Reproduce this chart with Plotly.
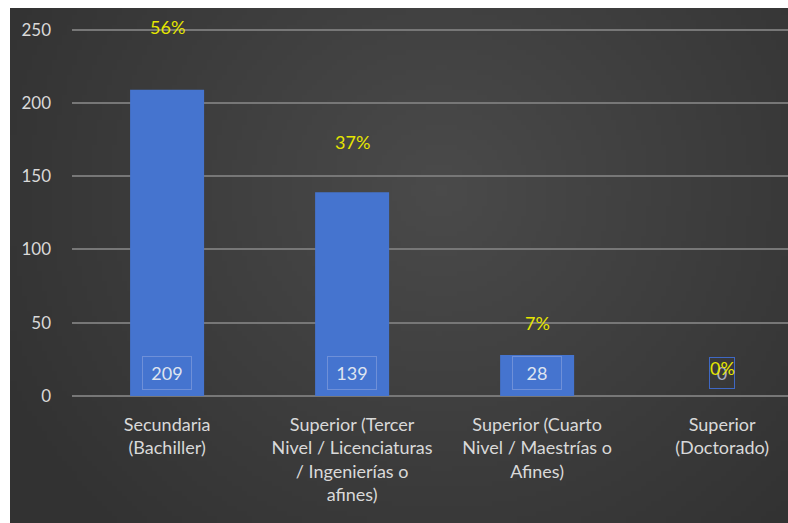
import base64
import struct
import zlib

import plotly.graph_objects as go

# Education level counts
categories = [
    "Secundaria<br>(Bachiller)",
    "Superior (Tercer<br>Nivel / Licenciaturas<br>/ Ingenierías o<br>afines)",
    "Superior (Cuarto<br>Nivel / Maestrías o<br>Afines)",
    "Superior<br>(Doctorado)",
]
counts = [209, 139, 28, 0]
share_labels = ["56%", "37%", "7%", "0%"]
y_ticks = [0, 50, 100, 150, 200, 250]

# Heights (in axis units) where the percentage labels sit
share_label_y = [252, 173, 50, 19]

W, H = 788, 523
ML, MR, MT, MB = 72, 0, 15, 127
FONT = "Lato"


def radial_png(w, h, inner, outer, cx, cy, rx, ry):
    """Small PNG with a soft radial gradient, returned as a data URI."""
    rows = []
    for j in range(h):
        row = bytearray([0])
        for i in range(w):
            d = (((i - cx) / rx) ** 2 + ((j - cy) / ry) ** 2) ** 0.5
            t = min(1.0, d)
            for k in range(3):
                row.append(int(round(inner[k] + (outer[k] - inner[k]) * t)))
        rows.append(bytes(row))
    raw = b"".join(rows)

    def chunk(tag, data):
        c = struct.pack(">I", len(data)) + tag + data
        return c + struct.pack(">I", zlib.crc32(tag + data) & 0xFFFFFFFF)

    png = b"\x89PNG\r\n\x1a\n"
    png += chunk(b"IHDR", struct.pack(">IIBBBBB", w, h, 8, 2, 0, 0, 0))
    png += chunk(b"IDAT", zlib.compress(raw, 9))
    png += chunk(b"IEND", b"")
    return "data:image/png;base64," + base64.b64encode(png).decode()


bg_w, bg_h = 156, 103
background = radial_png(bg_w, bg_h, (74, 74, 74), (50, 50, 50),
                        cx=bg_w * 0.55, cy=bg_h * 0.35, rx=bg_w * 0.62, ry=bg_h * 0.9)

fig = go.Figure()
fig.add_trace(go.Bar(
    x=list(range(len(categories))),
    y=counts,
    width=0.4,
    marker=dict(color="#4574cf", line=dict(width=0)),
    hoverinfo="skip",
))

annotations = []
for i, (c, p, py) in enumerate(zip(counts, share_labels, share_label_y)):
    # count label boxed at the bar foot
    annotations.append(dict(
        x=i, y=16, xref="x", yref="y", text=str(c), showarrow=False,
        font=dict(family=FONT, size=18, color="#dfe4f0" if c else "#aab0c0"),
        bordercolor="#6f90d8" if c else "#3f68c4", borderwidth=1,
        borderpad=5 if c else 4, bgcolor="rgba(0,0,0,0)",
        width=38 if c else 16,
    ))
    annotations.append(dict(
        x=i, y=py, xref="x", yref="y", text=p, showarrow=False,
        font=dict(family=FONT, size=18, color="#e6e600"),
    ))

plot_w = W - ML - MR
plot_h = H - MT - MB
fig.update_layout(
    width=W, height=H,
    margin=dict(l=ML, r=MR, t=MT, b=MB),
    paper_bgcolor="white",
    plot_bgcolor="rgba(0,0,0,0)",
    showlegend=False,
    annotations=annotations,
    images=[dict(
        source=background, xref="paper", yref="paper",
        x=-(ML - 10) / plot_w, y=1 + (MT - 8) / plot_h,
        sizex=(W - 10) / plot_w, sizey=(H - 8) / plot_h,
        sizing="stretch", xanchor="left", yanchor="top", layer="below",
    )],
    xaxis=dict(
        tickmode="array",
        tickvals=list(range(len(categories))),
        ticktext=categories,
        range=[-0.514, 3.356],
        showgrid=False, zeroline=False, showline=False,
        ticks="", ticklabelstandoff=16,
        tickfont=dict(family=FONT, size=18, color="#d9d9d9"),
        fixedrange=True,
    ),
    yaxis=dict(
        range=[0, 260],
        tickmode="array", tickvals=y_ticks,
        showgrid=True, gridcolor="#777777", gridwidth=1.5,
        zeroline=True, zerolinecolor="#777777", zerolinewidth=1.5,
        showline=False, ticks="", ticklabelstandoff=20,
        tickfont=dict(family=FONT, size=17, color="#d9d9d9"),
        fixedrange=True,
    ),
)

fig.write_html("out.html")
